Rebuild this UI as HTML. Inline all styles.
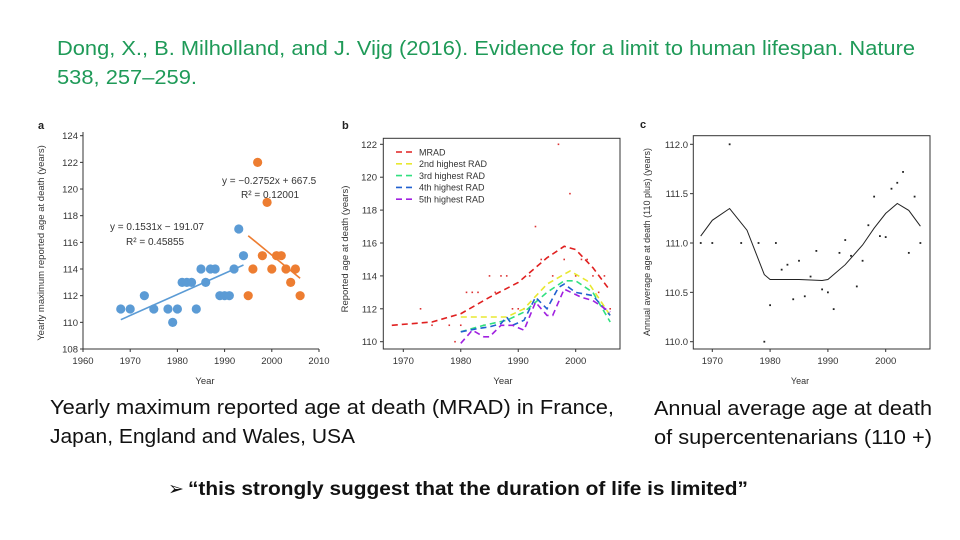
<!DOCTYPE html>
<html><head><meta charset="utf-8"><style>
html,body{margin:0;padding:0;background:#fff;}
svg{display:block;font-family:"Liberation Sans",sans-serif;}
</style></head><body>
<svg id="s" width="960" height="540" viewBox="0 0 960 540">
<g fill="#1f9a58" font-size="20">
<text x="57" y="55" textLength="858" lengthAdjust="spacingAndGlyphs">Dong, X., B. Milholland, and J. Vijg (2016). Evidence for a limit to human lifespan. Nature</text>
<text x="57" y="84" textLength="140" lengthAdjust="spacingAndGlyphs">538, 257–259.</text>
</g>
<g font-size="20" fill="#111">
<text x="50" y="414" textLength="564" lengthAdjust="spacingAndGlyphs">Yearly maximum reported age at death (MRAD) in France,</text>
<text x="50" y="443" textLength="305" lengthAdjust="spacingAndGlyphs">Japan, England and Wales, USA</text>
</g>
<g font-size="20" fill="#111">
<text x="654" y="415" textLength="278" lengthAdjust="spacingAndGlyphs">Annual average age at death</text>
<text x="654" y="444" textLength="278" lengthAdjust="spacingAndGlyphs">of supercentenarians (110 +)</text>
</g>
<g font-size="19" font-weight="bold" fill="#111">
<text x="168" y="495" font-weight="normal">➢</text>
<text x="188" y="495" textLength="560" lengthAdjust="spacingAndGlyphs">“this strongly suggest that the duration of life is limited”</text>
</g>
<g id="pa"></g>
<g id="pb"></g>
<g id="pc"></g>
</svg>
<script>
// Panel a data
const aBlueYears=[1968,1970,1973,1975,1978,1979,1980,1981,1982,1983,1984,1985,1986,1987,1988,1989,1990,1991,1992,1993,1994];
const aBlueAges=[111,111,112,111,111,110,111,113,113,113,111,114,113,114,114,112,112,112,114,117,115];
const aOrangeYears=[1995,1996,1997,1998,1999,2000,2001,2002,2003,2004,2005,2006];
const aOrangeAges=[112,114,122,115,119,114,115,115,114,113,114,112];
const aBlueFitYears=[1968,1994];
const aBlueFitAges=[110.2,114.3];
const aOrangeFitYears=[1995,2006];
const aOrangeFitAges=[116.5,113.3];
const aXTicks=[1960,1970,1980,1990,2000,2010];
const aYTicks=[108,110,112,114,116,118,120,122,124];
// Panel b data
const bDotYears=[1973,1975,1978,1979,1980,1981,1982,1983,1984,1985,1986,1987,1988,1989,1990,1991,1992,1993,1994,1996,1997,1998,1999,2000,2001,2002,2003,2004,2005,2006];
const bDotAges=[112,111,111,110,111,113,113,113,111,114,113,114,114,112,112,112,114,117,115,114,122,115,119,114,115,115,114,113,114,112];
const bMradYears=[1968,1975,1980,1985,1990,1995,1998,2000,2003,2006];
const bMradAges=[111,111.2,111.7,112.7,113.6,115.1,115.8,115.6,114.5,113.1];
const b2Years=[1980,1988,1991,1995,1999,2002,2006];
const b2Ages=[111.5,111.5,112,113.5,114.3,113.7,111.6];
const b3Years=[1980,1984,1988,1991,1995,1998,2000,2003,2006];
const b3Ages=[110.6,111,111.3,111.8,113,113.7,113.7,113,111.2];
const b4Years=[1980,1983,1985,1987,1988,1989,1991,1993,1995,1997,1998,2000,2003,2006];
const b4Ages=[110.6,110.8,110.9,111.1,111.5,111,111.3,112.7,112,113.3,113.5,113,112.8,111.6];
const b5Years=[1980,1982,1984,1985,1987,1989,1991,1993,1995,1996,1998,2001,2003,2006];
const b5Ages=[109.9,110.7,110.3,110.3,111,111,110.7,112.4,111.6,111.6,113.2,112.7,112.5,111.8];
const bLegend=["MRAD","2nd highest RAD","3rd highest RAD","4th highest RAD","5th highest RAD"];
const bXTicks=[1970,1980,1990,2000];
const bYTicks=[110,112,114,116,118,120,122];
// Panel c data
const cDotYears=[1968,1970,1973,1975,1978,1979,1980,1981,1982,1983,1984,1985,1986,1987,1988,1989,1990,1991,1992,1993,1994,1995,1996,1997,1998,1999,2000,2001,2002,2003,2004,2005,2006];
const cDotAges=[111,111,112,111,111,110,110.37,111,110.73,110.78,110.43,110.82,110.46,110.66,110.92,110.53,110.5,110.33,110.9,111.03,110.87,110.56,110.82,111.18,111.47,111.07,111.06,111.55,111.61,111.72,110.9,111.47,111];
const cLineYears=[1968,1970,1973,1976,1979,1980,1985,1989,1990,1993,1996,1998,2000,2002,2004,2006];
const cLineAges=[111.07,111.23,111.35,111.13,110.68,110.63,110.63,110.62,110.63,110.78,110.98,111.15,111.3,111.4,111.33,111.17];
const cXTicks=[1970,1980,1990,2000];
const cYTicks=["110.0","110.5","111.0","111.5","112.0"];

const NS="http://www.w3.org/2000/svg";
function mk(parent,tag,attrs,txt){const e=document.createElementNS(NS,tag);for(const k in attrs)e.setAttribute(k,attrs[k]);if(txt!==undefined)e.textContent=txt;parent.appendChild(e);return e;}
function lin(d0,d1,r0,r1){return v=>r0+(v-d0)*(r1-r0)/(d1-d0);}
function path(xs,ys,sx,sy){return xs.map((x,i)=>(i?'L':'M')+sx(x).toFixed(1)+','+sy(ys[i]).toFixed(1)).join('');}

// Panel A
(function(){
const g=document.getElementById('pa');
const sx=lin(1960,2010,83,319), sy=lin(108,124,349,135.7);
let t=mk(g,'text',{x:38,y:129,'font-size':11,'font-weight':'bold',fill:'#222'},'a');

let ax=mk(g,'path',{d:'M83,132V349H319',fill:'none',stroke:'#333','stroke-width':1});

aXTicks.forEach(v=>{mk(g,'line',{x1:sx(v),x2:sx(v),y1:349,y2:352,stroke:'#333'});
 const l=mk(g,'text',{x:sx(v),y:364,'font-size':9.5,'text-anchor':'middle',fill:'#333'},v);
 });
aYTicks.forEach(v=>{mk(g,'line',{x1:80,x2:83,y1:sy(v),y2:sy(v),stroke:'#333'});
 const l=mk(g,'text',{x:78,y:sy(v)+3.5,'font-size':9.5,'text-anchor':'end',fill:'#333'},v);
 });
let xt=mk(g,'text',{x:205,y:384,'font-size':9.5,'text-anchor':'middle',fill:'#333'},'Year');

let yt=mk(g,'text',{transform:'translate(44,243) rotate(-90)','font-size':9.5,'text-anchor':'middle',fill:'#333'},'Yearly maximum reported age at death (years)');

aBlueYears.forEach((y,i)=>{const c=mk(g,'circle',{cx:sx(y),cy:sy(aBlueAges[i]),r:4.6,fill:'#5b9bd5'});
 });
aOrangeYears.forEach((y,i)=>{const c=mk(g,'circle',{cx:sx(y),cy:sy(aOrangeAges[i]),r:4.6,fill:'#ed7d31'});
 });
let f1=mk(g,'path',{d:path(aBlueFitYears,aBlueFitAges,sx,sy),stroke:'#5b9bd5','stroke-width':1.6,fill:'none'});

let f2=mk(g,'path',{d:path(aOrangeFitYears,aOrangeFitAges,sx,sy),stroke:'#ed7d31','stroke-width':1.6,fill:'none'});

const eqs=[[110,230,'y = 0.1531x − 191.07'],[126,245,'R² = 0.45855'],[222,184,'y = −0.2752x + 667.5'],[241,198,'R² = 0.12001']];
eqs.forEach(e=>{const q=mk(g,'text',{x:e[0],y:e[1],'font-size':10,fill:'#333'},e[2]);
 });
})();

// Panel B
(function(){
const g=document.getElementById('pb');
const sx=lin(1970,2000,403.3,575.7), sy=lin(110,122,341.7,144.3);
let t=mk(g,'text',{x:342,y:129,'font-size':11,'font-weight':'bold',fill:'#222'},'b');

let bx=mk(g,'rect',{x:383.3,y:138.3,width:236.7,height:210.7,fill:'none',stroke:'#333','stroke-width':1});

bXTicks.forEach(v=>{mk(g,'line',{x1:sx(v),x2:sx(v),y1:349,y2:352,stroke:'#333'});
 const l=mk(g,'text',{x:sx(v),y:364,'font-size':9.5,'text-anchor':'middle',fill:'#333'},v);
 });
bYTicks.forEach(v=>{mk(g,'line',{x1:380,x2:383.3,y1:sy(v),y2:sy(v),stroke:'#333'});
 const l=mk(g,'text',{x:377,y:sy(v)+3.5,'font-size':9.5,'text-anchor':'end',fill:'#333'},v);
 });
let xt=mk(g,'text',{x:503,y:384,'font-size':9.5,'text-anchor':'middle',fill:'#333'},'Year');

let yt=mk(g,'text',{transform:'translate(348,249) rotate(-90)','font-size':9.5,'text-anchor':'middle',fill:'#333'},'Reported age at death (years)');

bDotYears.forEach((y,i)=>{const c=mk(g,'rect',{x:sx(y)-0.8,y:sy(bDotAges[i])-0.8,width:1.6,height:1.6,fill:'#d33'});
 });
const series=[[bMradYears,bMradAges,'#e02020'],[b2Years,b2Ages,'#e8e830'],[b3Years,b3Ages,'#30e080'],[b4Years,b4Ages,'#2060d0'],[b5Years,b5Ages,'#a020e0']];
series.forEach((s,i)=>{const p=mk(g,'path',{d:path(s[0],s[1],sx,sy),stroke:s[2],'stroke-width':1.6,fill:'none','stroke-dasharray':'6,4'});
 
 const ly=152+i*11.8;
 const ll=mk(g,'line',{x1:396,x2:415,y1:ly,y2:ly,stroke:s[2],'stroke-width':1.6,'stroke-dasharray':'6,4'});
 
 const lt=mk(g,'text',{x:419,y:ly+3.3,'font-size':9,fill:'#333'},bLegend[i]);
 });
})();

// Panel C
(function(){
const g=document.getElementById('pc');
const sx=lin(1970,2000,712.3,885.7), sy=lin(110,112,341.7,144.3);
let t=mk(g,'text',{x:640,y:128,'font-size':11,'font-weight':'bold',fill:'#222'},'c');

let bx=mk(g,'rect',{x:693.3,y:135.7,width:236.7,height:213.3,fill:'none',stroke:'#333','stroke-width':1});

cXTicks.forEach(v=>{mk(g,'line',{x1:sx(v),x2:sx(v),y1:349,y2:352,stroke:'#333'});
 const l=mk(g,'text',{x:sx(v),y:364,'font-size':9.5,'text-anchor':'middle',fill:'#333'},v);
 });
cYTicks.forEach(v=>{const yy=sy(parseFloat(v));mk(g,'line',{x1:690,x2:693.3,y1:yy,y2:yy,stroke:'#333'});
 const l=mk(g,'text',{x:688,y:yy+3.5,'font-size':9.5,'text-anchor':'end',fill:'#333'},v);
 });
let xt=mk(g,'text',{x:800,y:384,'font-size':9,'text-anchor':'middle',fill:'#333'},'Year');

let yt=mk(g,'text',{transform:'translate(650,242) rotate(-90)','font-size':9,'text-anchor':'middle',fill:'#333'},'Annual average age at death (110 plus) (years)');

cDotYears.forEach((y,i)=>{const c=mk(g,'rect',{x:sx(y)-0.9,y:sy(cDotAges[i])-0.9,width:1.8,height:1.8,fill:'#222'});
 });
let p=mk(g,'path',{d:path(cLineYears,cLineAges,sx,sy),stroke:'#222','stroke-width':1,fill:'none'});

})();
</script>
</body></html>
